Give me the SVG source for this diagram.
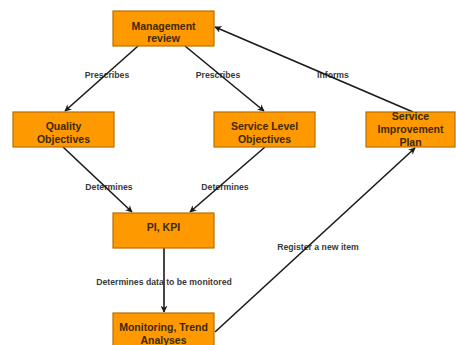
<svg xmlns="http://www.w3.org/2000/svg" width="456" height="345" viewBox="0 0 456 345">
<style>
.box{fill:#FF9900;stroke:#B86E00;stroke-width:1.2}
.bt{font-family:"Liberation Sans",Arial,sans-serif;font-weight:bold;font-size:10.5px;fill:#3A2A08;text-anchor:middle}
.lb{font-family:"Liberation Sans",Arial,sans-serif;font-weight:bold;font-size:8.7px;fill:#3A3A3A;text-anchor:middle}
.c{stroke:#1A1A1A;stroke-width:1.6;fill:none;marker-end:url(#ah)}
</style>
<defs>
<marker id="ah" viewBox="0 0 10 10" refX="9" refY="5" markerWidth="7" markerHeight="7" markerUnits="userSpaceOnUse" orient="auto">
<path d="M0,0 L10,5 L0,10 L3,5 Z" fill="#1A1A1A"/>
</marker>
</defs>
<rect width="456" height="345" fill="#FFFFFF"/>
<g id="labels">
<text class="lb" x="107" y="78">Prescribes</text>
<text class="lb" x="218" y="78">Prescribes</text>
<text class="lb" x="333" y="78">Informs</text>
<text class="lb" x="109" y="190">Determines</text>
<text class="lb" x="225" y="190">Determines</text>
<text class="lb" x="318" y="250">Register a new item</text>
<text class="lb" x="164" y="285">Determines data to be monitored</text>
</g>
<g id="connectors">
<line class="c" x1="138" y1="46" x2="65" y2="111"/>
<line class="c" x1="185" y1="46" x2="264" y2="111"/>
<line class="c" x1="413" y1="112" x2="215" y2="27"/>
<line class="c" x1="63" y1="147" x2="132" y2="212"/>
<line class="c" x1="265" y1="147" x2="190" y2="212"/>
<line class="c" x1="164" y1="248" x2="164" y2="312"/>
<line class="c" x1="215" y1="332" x2="415" y2="148"/>
</g>
<g id="management-review">
<rect class="box" x="113" y="11" width="101" height="35"/>
<text class="bt" x="163.5" y="30">Management</text>
<text class="bt" x="163.5" y="42">review</text>
</g>
<g id="quality-objectives">
<rect class="box" x="13" y="112" width="101" height="35"/>
<text class="bt" x="63.5" y="130">Quality</text>
<text class="bt" x="63.5" y="143">Objectives</text>
</g>
<g id="service-level-objectives">
<rect class="box" x="214" y="112" width="101" height="35"/>
<text class="bt" x="264.5" y="130">Service Level</text>
<text class="bt" x="264.5" y="143">Objectives</text>
</g>
<g id="service-improvement-plan">
<rect class="box" x="366" y="112" width="89" height="35"/>
<text class="bt" x="410.5" y="120">Service</text>
<text class="bt" x="410.5" y="133">Improvement</text>
<text class="bt" x="410.5" y="146">Plan</text>
</g>
<g id="pi-kpi">
<rect class="box" x="113" y="213" width="101" height="35"/>
<text class="bt" x="163.5" y="231">PI, KPI</text>
</g>
<g id="monitoring">
<rect class="box" x="113" y="313" width="101" height="40"/>
<text class="bt" x="163.5" y="331">Monitoring, Trend</text>
<text class="bt" x="163.5" y="344">Analyses</text>
</g>
</svg>
